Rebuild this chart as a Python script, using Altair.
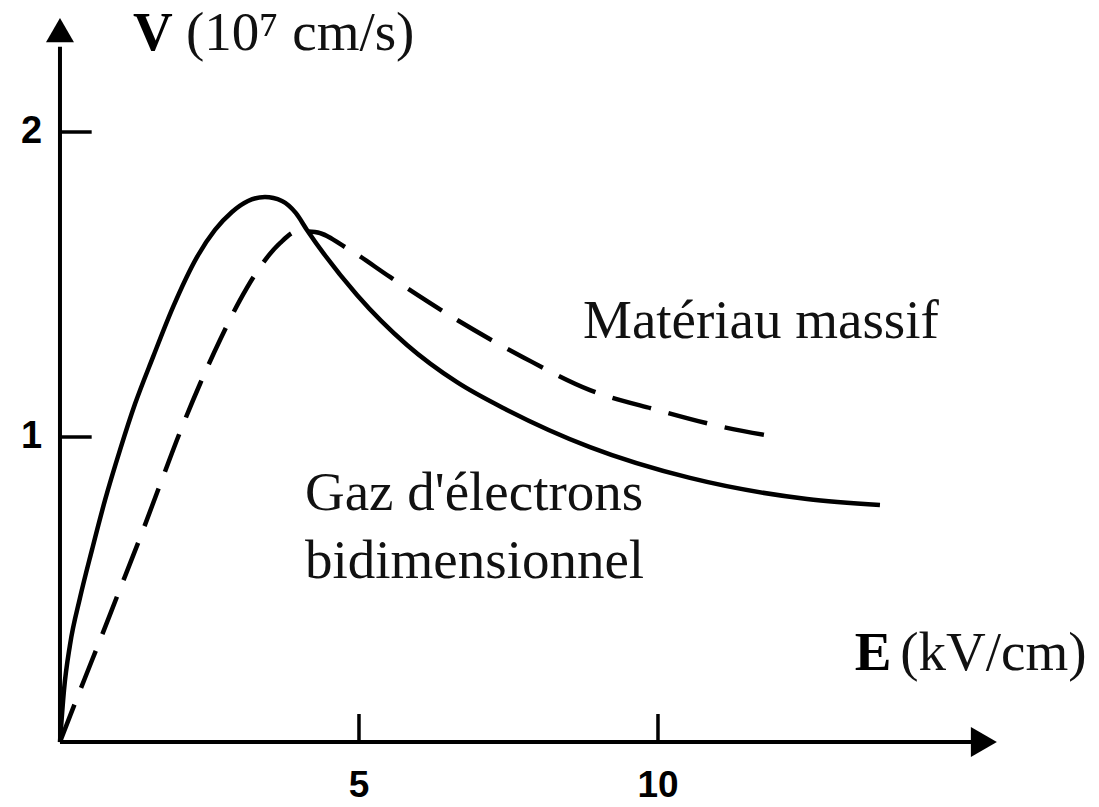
import altair as alt
import pandas as pd

# ---- data ----
# 2D electron gas (solid curve)
E_2d = [0.0, 0.067, 0.167, 0.334, 0.535, 0.753, 1.003, 1.254, 1.555, 1.890, 2.291, 2.592,
        2.876, 3.144, 3.428, 3.712, 3.946, 4.130, 4.967, 5.803, 6.639, 7.475, 8.863, 10.535,
        12.492, 13.712]
V_2d = [0.0, 0.170, 0.318, 0.472, 0.630, 0.793, 0.957, 1.108, 1.262, 1.426, 1.590, 1.679,
        1.738, 1.774, 1.787, 1.774, 1.734, 1.679, 1.466, 1.302, 1.180, 1.089, 0.967, 0.866,
        0.797, 0.777]
# bulk material (dashed curve)
E_bulk = [0.0, 0.167, 0.418, 0.669, 0.970, 1.338, 1.672, 2.007, 2.341, 2.676, 3.010, 3.344,
          3.679, 3.980, 4.264, 4.849, 5.518, 6.639, 7.742, 8.863, 9.983, 11.087, 11.990]
V_bulk = [0.0, 0.085, 0.210, 0.334, 0.485, 0.669, 0.843, 1.016, 1.174, 1.318, 1.449, 1.557,
          1.636, 1.675, 1.672, 1.613, 1.525, 1.384, 1.262, 1.154, 1.089, 1.033, 1.000]

x_ticks = [5, 10]
y_ticks = [1, 2]

W, H = 1099, 807
xs = alt.Scale(domain=[-1.003, 17.375], nice=False, zero=False)
ys = alt.Scale(domain=[-0.213, 2.433], nice=False, zero=False)

df2d = pd.DataFrame({"E": E_2d, "V": V_2d})
dfb = pd.DataFrame({"E": E_bulk, "V": V_bulk})

X = lambda f: alt.X(f, type="quantitative", scale=xs, axis=None)
Y = lambda f: alt.Y(f, type="quantitative", scale=ys, axis=None)

solid = alt.Chart(df2d).mark_line(color="black", strokeWidth=4.5, interpolate="monotone").encode(
    x=X("E"), y=Y("V"), order="E:Q")
dashed = alt.Chart(dfb).mark_line(color="black", strokeWidth=4.5, interpolate="monotone",
                                  strokeDash=[40, 18]).encode(
    x=X("E"), y=Y("V"), order="E:Q")

# axes
axes_df = pd.DataFrame({"x": [0, 0], "y": [0, 0], "x2": [15.3, 0], "y2": [0, 2.28]})
axes = alt.Chart(axes_df).mark_rule(color="black", strokeWidth=4).encode(
    x=X("x"), y=Y("y"), x2="x2:Q", y2="y2:Q")

arrow_up = alt.Chart(pd.DataFrame({"x": [0], "y": [2.334]})).mark_point(
    shape="triangle-up", size=784, filled=True, color="black", opacity=1).encode(x=X("x"), y=Y("y"))
arrow_right = alt.Chart(pd.DataFrame({"x": [15.45], "y": [0]})).mark_point(
    shape="triangle-right", size=900, filled=True, color="black", opacity=1).encode(x=X("x"), y=Y("y"))

xt = pd.DataFrame({"t": x_ticks, "y0": [0.0] * len(x_ticks), "y1": [0.092] * len(x_ticks),
                   "ly": [-0.144] * len(x_ticks), "lab": [str(t) for t in x_ticks]})
yt = pd.DataFrame({"t": y_ticks, "x0": [0.0] * len(y_ticks), "x1": [0.53] * len(y_ticks),
                   "lx": [-0.30] * len(y_ticks), "lab": [str(t) for t in y_ticks]})

xtick_marks = alt.Chart(xt).mark_rule(color="black", strokeWidth=3.5).encode(
    x=X("t"), y=Y("y0"), y2="y1:Q")
ytick_marks = alt.Chart(yt).mark_rule(color="black", strokeWidth=3.5).encode(
    y=Y("t"), x=X("x0"), x2="x1:Q")
xtick_labels = alt.Chart(xt).mark_text(font="Liberation Sans", fontWeight="bold", fontSize=37,
                                       align="center", baseline="middle", color="black").encode(
    x=X("t"), y=Y("ly"), text="lab:N")
ytick_labels = alt.Chart(yt).mark_text(font="Liberation Sans", fontWeight="bold", fontSize=38,
                                       align="right", baseline="middle", color="black").encode(
    x=X("lx"), y=Y("t"), text="lab:N")

# texts
bold_df = pd.DataFrame({"x": [1.221, 13.29], "y": [2.269, 0.236], "lab": ["V", "E"]})
reg_df = pd.DataFrame({
    "x": [2.107, 14.05, 8.746, 4.097, 4.097],
    "y": [2.269, 0.236, 1.325, 0.761, 0.538],
    "lab": ["(10⁷ cm/s)", "(kV/cm)", "Matériau massif", "Gaz d'électrons", "bidimensionnel"],
})
bold_txt = alt.Chart(bold_df).mark_text(font="Liberation Serif", fontWeight="bold", fontSize=55,
                                        align="left", baseline="alphabetic", color="black").encode(
    x=X("x"), y=Y("y"), text="lab:N")
reg_txt = alt.Chart(reg_df).mark_text(font="Liberation Serif", fontSize=55,
                                      align="left", baseline="alphabetic", color="#111").encode(
    x=X("x"), y=Y("y"), text="lab:N")

chart = alt.layer(axes, arrow_up, arrow_right, xtick_marks, ytick_marks, xtick_labels, ytick_labels,
                  solid, dashed, bold_txt, reg_txt).properties(
    width=W, height=H, autosize=alt.AutoSizeParams(type="none"), padding=0,
    background="white").configure_view(strokeWidth=0)

chart.save("out.html", embed_options={"renderer": "svg", "actions": False})
